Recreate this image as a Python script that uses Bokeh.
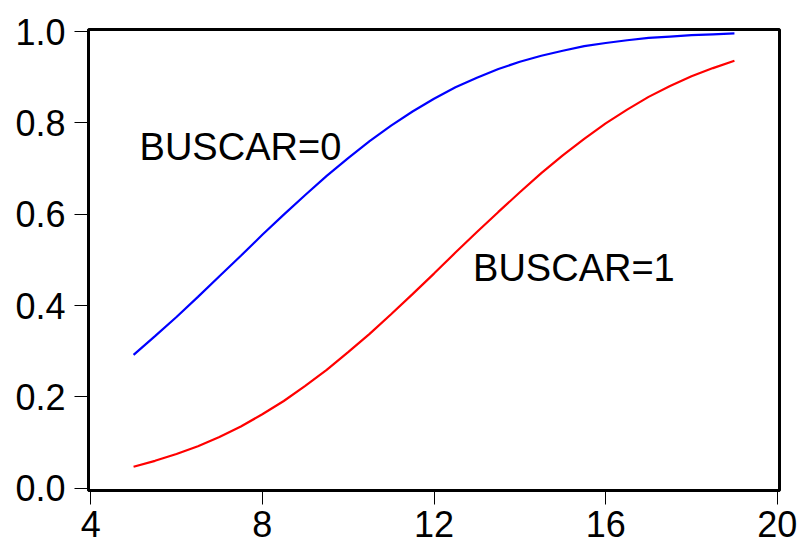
from bokeh.plotting import figure
from bokeh.models import Range1d, FixedTicker, Label
from bokeh.embed import file_html
from bokeh.resources import INLINE

# Data
x_vals = [5.0, 5.5, 6.0, 6.5, 7.0, 7.5, 8.0, 8.5, 9.0, 9.5, 10.0, 10.5, 11.0, 11.5,
          12.0, 12.5, 13.0, 13.5, 14.0, 14.5, 15.0, 15.5, 16.0, 16.5, 17.0, 17.5,
          18.0, 18.5, 19.0]
buscar0 = [0.292, 0.333, 0.375, 0.419, 0.464, 0.509, 0.555, 0.599, 0.642, 0.684,
           0.723, 0.760, 0.794, 0.825, 0.853, 0.878, 0.899, 0.918, 0.934, 0.947,
           0.958, 0.968, 0.975, 0.981, 0.986, 0.989, 0.992, 0.994, 0.996]
buscar1 = [0.047, 0.060, 0.075, 0.092, 0.112, 0.135, 0.162, 0.191, 0.224, 0.259,
           0.298, 0.338, 0.381, 0.425, 0.470, 0.516, 0.561, 0.605, 0.648, 0.690,
           0.729, 0.765, 0.799, 0.829, 0.857, 0.881, 0.902, 0.920, 0.936]
x_ticks = [4, 8, 12, 16, 20]
y_ticks = [0.0, 0.2, 0.4, 0.6, 0.8, 1.0]
label0 = "BUSCAR=0"
label1 = "BUSCAR=1"

FONT = "Liberation Sans"

p = figure(width=799, height=550, output_backend="svg", toolbar_location=None,
           x_range=Range1d(3.95, 20.05), y_range=Range1d(-0.005, 1.0045),
           min_border_left=88, min_border_right=20, min_border_top=29,
           min_border_bottom=60)

p.line(x_vals, buscar0, line_color="#0000FF", line_width=2.2)
p.line(x_vals, buscar1, line_color="#FF0000", line_width=2.2)

p.add_layout(Label(x=5.14, y=0.747, text=label0, text_font=FONT,
                   text_font_size="38px", text_color="black",
                   text_baseline="alphabetic", text_align="left"))
p.add_layout(Label(x=12.91, y=0.482, text=label1, text_font=FONT,
                   text_font_size="38px", text_color="black",
                   text_baseline="alphabetic", text_align="left"))

p.grid.visible = False
p.outline_line_color = "black"
p.outline_line_width = 3
p.background_fill_color = "white"
p.border_fill_color = "white"

p.xaxis.ticker = FixedTicker(ticks=x_ticks)
p.yaxis.ticker = FixedTicker(ticks=y_ticks)
p.xaxis.major_label_overrides = {t: str(t) for t in x_ticks}
p.yaxis.major_label_overrides = {t: f"{t:.1f}" for t in y_ticks}

for ax in (p.xaxis, p.yaxis):
    ax.axis_line_color = "black"
    ax.axis_line_width = 3
    ax.major_tick_line_color = "black"
    ax.major_tick_line_width = 1
    ax.major_tick_in = 0
    ax.major_tick_out = 14
    ax.minor_tick_line_color = None
    ax.major_label_text_font = FONT
    ax.major_label_text_font_size = "36px"
    ax.major_label_text_color = "black"

p.yaxis.major_label_standoff = 9
p.xaxis.major_label_standoff = 6

open("out.html", "w").write(file_html(p, INLINE))
